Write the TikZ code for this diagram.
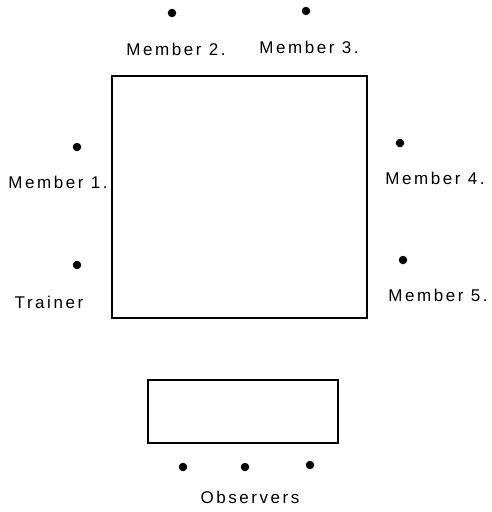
\documentclass[tikz,border=0pt]{standalone}
\usepackage{fontspec}
\setmainfont{Liberation Sans}[LetterSpace=15]
\tikzset{
  seat/.style={circle, fill=black, inner sep=0pt, minimum size=8.5pt},
  tag/.style={font=\fontsize{17}{19}\selectfont, inner sep=0pt},
  table/.style={draw=black, line width=2.5pt, inner sep=0pt}
}
\begin{document}
\begin{tikzpicture}[x=1pt, y=-1pt]
  \useasboundingbox (0,0) rectangle (492,512);
  % main table
  \node[table, minimum width=255pt, minimum height=242pt] (main) at (239.5,197) {};
  % observers' table
  \node[table, minimum width=190pt, minimum height=63pt] (obs) at (243,411.5) {};
  % seats
  \node[seat] (m2) at (172,13) {};
  \node[seat] (m3) at (306,11) {};
  \node[seat] (m1) at (77,147) {};
  \node[seat] (tr) at (77,265) {};
  \node[seat] (m4) at (400,143) {};
  \node[seat] (m5) at (403,260) {};
  \node[seat] (o1) at (183,467) {};
  \node[seat] (o2) at (245,467) {};
  \node[seat] (o3) at (310,465) {};
  % labels
  \node[tag] (l2) at (176,49) {Member 2.};
  \node[tag] (l3) at (309,47) {Member 3.};
  \node[tag] (l1) at (58,182) {Member 1.};
  \node[tag] (lt) at (49,302) {Trainer};
  \node[tag] (l4) at (435,178) {Member 4.};
  \node[tag] (l5) at (438,295) {Member 5.};
  \node[tag] (lo) at (250,497) {Observers};
\end{tikzpicture}
\end{document}
